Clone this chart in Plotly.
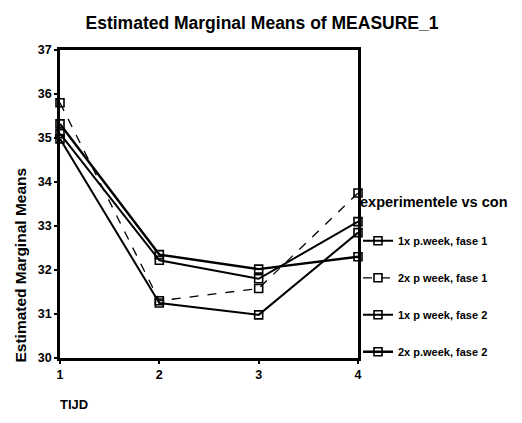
import plotly.graph_objects as go

tijd = [1, 2, 3, 4]
series_names = ["1x p.week, fase 1", "2x p week, fase 1", "1x p week, fase 2", "2x p.week, fase 2"]
s1 = [35.10, 32.22, 31.80, 33.10]
s2 = [35.80, 31.30, 31.58, 33.75]
s3 = [34.98, 31.25, 30.98, 32.85]
s4 = [35.32, 32.35, 32.02, 32.30]
values = [s1, s2, s3, s4]
dashes = ["solid", "dash", "solid", "solid"]
widths = [2.0, 1.3, 2.0, 2.4]
y_ticks = [30, 31, 32, 33, 34, 35, 36, 37]

# page body has an 8px margin: figure sized to fit the window
W, H = 514, 415
L, T, PW, PH = 52, 42, 302, 308

fig = go.Figure()
for i, (name, vals) in enumerate(zip(series_names, values)):
    fig.add_trace(go.Scatter(
        x=tijd, y=vals, name=name, mode="lines+markers",
        legendgroup=f"g{i}",
        line=dict(color="black", width=widths[i], dash=dashes[i]),
        marker=dict(symbol="square-open", size=8, color="black", line=dict(width=1.6)),
        cliponaxis=False,
    ))

fig.update_layout(
    width=W, height=H,
    margin=dict(l=L, r=W - L - PW, t=T, b=H - T - PH),
    paper_bgcolor="white", plot_bgcolor="white",
    font=dict(family="Liberation Sans, Arial", color="black"),
    title=dict(text="Estimated Marginal Means of MEASURE_1", x=254 / W, xref="container",
               xanchor="center", y=1 - 15 / H, yanchor="middle",
               font=dict(size=17.5, color="black", weight="bold")),
    showlegend=True,
    legend=dict(
        title=dict(text="experimentele vs con<br> ", font=dict(size=14.5, weight="bold")),
        x=1.0, xanchor="left", y=0.55, yanchor="top",
        font=dict(size=11, family="Liberation Sans, Arial", weight="bold"),
        traceorder="grouped", tracegroupgap=18,
        bgcolor="rgba(0,0,0,0)", itemwidth=30,
    ),
    xaxis=dict(range=[1, 4], tickvals=tijd, ticktext=[str(t) for t in tijd],
               showgrid=False, zeroline=False, showline=True, mirror=True,
               linecolor="black", linewidth=2.5, ticks="outside", ticklen=3,
               tickwidth=2, tickcolor="black",
               tickfont=dict(size=12.5, family="Liberation Sans, Arial", weight="bold")),
    yaxis=dict(range=[30, 37], tickvals=y_ticks, ticktext=[str(t) for t in y_ticks],
               showgrid=False, zeroline=False, showline=True, mirror=True,
               linecolor="black", linewidth=2.5, ticks="outside", ticklen=3,
               tickwidth=2, tickcolor="black",
               tickfont=dict(size=12.5, family="Liberation Sans, Arial", weight="bold")),
    annotations=[
        dict(text="Estimated Marginal Means", textangle=-90, xref="paper", yref="paper",
             x=(11 - L) / PW, y=(T + PH - 257) / PH, xanchor="center", yanchor="middle",
             showarrow=False, font=dict(size=15.5, weight="bold")),
        dict(text="TIJD", xref="paper", yref="paper", x=(50 - L) / PW, y=-(396 - T - PH) / PH,
             xanchor="left", yanchor="middle", showarrow=False,
             font=dict(size=13, weight="bold")),
    ],
)

fig.write_html("out.html")
